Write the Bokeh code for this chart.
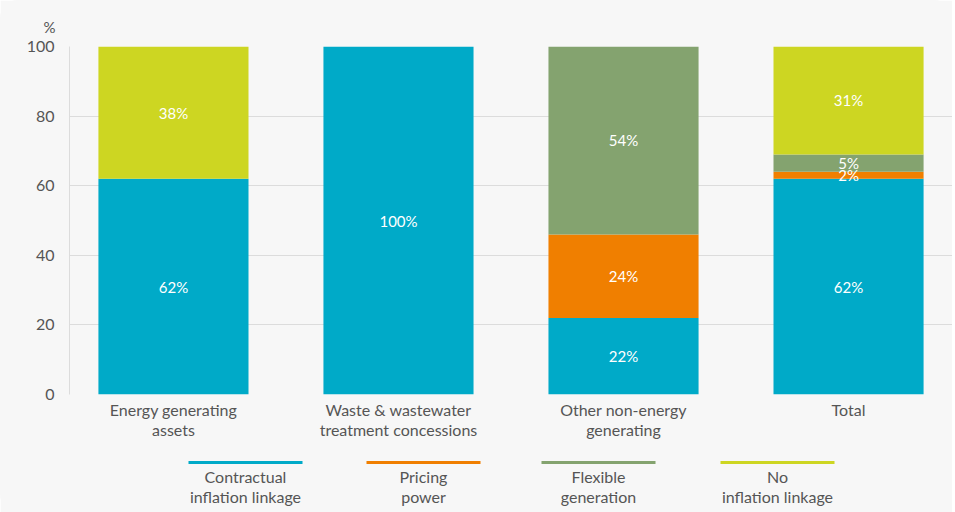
from bokeh.plotting import figure
from bokeh.models import ColumnDataSource, FactorRange
from bokeh.layouts import column
from bokeh.core.properties import value
from bokeh.embed import file_html
from bokeh.resources import INLINE

categories = ["Energy generating\nassets", "Waste & wastewater\ntreatment concessions",
              "Other non-energy\ngenerating", "Total"]
contractual = [62, 100, 22, 62]
pricing = [0, 0, 24, 2]
flexible = [0, 0, 54, 5]
no_inflation = [38, 0, 0, 31]
series_names = ["contractual", "pricing", "flexible", "no_inflation"]
legend_labels = ["Contractual\ninflation linkage", "Pricing\npower", "Flexible\ngeneration", "No\ninflation linkage"]
colors = ["#00aac8", "#f07f00", "#84a36f", "#cdd622"]
y_ticks = [0, 20, 40, 60, 80, 100]

FONT = "Lato"
BG = "#f7f7f7"
TXT = "#555555"

data = {"cat": categories, "contractual": contractual, "pricing": pricing,
        "flexible": flexible, "no_inflation": no_inflation}
src = ColumnDataSource(data)

xr = FactorRange(*categories, range_padding=-0.038, range_padding_units="absolute")
p = figure(x_range=xr, y_range=(0, 100), width=952, height=446,
           output_backend="svg", toolbar_location=None, title="%",
           min_border_left=69, min_border_right=0, min_border_top=46, min_border_bottom=52)
p.background_fill_color = BG
p.border_fill_color = BG
p.outline_line_color = None
p.title.align = "left"
p.title.offset = -26
p.title.standoff = 22
p.title.text_font = FONT
p.title.text_font_size = "15px"
p.title.text_font_style = "normal"
p.title.text_color = TXT

p.vbar_stack(series_names, x="cat", width=0.667, color=colors, source=src, line_color=None)

lab_x, lab_y, lab_t = [], [], []
for i, c in enumerate(categories):
    base = 0
    for s in series_names:
        v = data[s][i]
        if v > 0:
            lab_x.append(c)
            lab_y.append(base + v / 2)
            lab_t.append(f"{v}%")
        base += v
lsrc = ColumnDataSource(dict(x=lab_x, y=lab_y, t=lab_t))
p.text(x="x", y="y", text="t", source=lsrc, text_color="white", text_font=value(FONT),
       text_font_size="15px", text_align="center", text_baseline="middle")

p.yaxis.ticker = y_ticks
p.ygrid.ticker = y_ticks
p.xgrid.grid_line_color = None
p.ygrid.grid_line_color = "#dcdcdc"
p.ygrid.grid_line_width = 1
for ax in (p.xaxis, p.yaxis):
    ax.major_label_text_font = FONT
    ax.major_label_text_font_size = "16px"
    ax.major_label_text_color = TXT
    ax.major_tick_line_color = None
    ax.minor_tick_line_color = None
p.xaxis.axis_line_color = None
p.yaxis.axis_line_color = "#dcdcdc"
p.yaxis.major_label_standoff = 9
p.xaxis.major_label_standoff = -1
p.xaxis.major_label_text_line_height = 1.1

# legend figure (its frame aligns with the main frame: x 69..952 on the page)
lg = figure(width=952, height=66, x_range=(69, 952), y_range=(66, 0),
            output_backend="svg", toolbar_location=None, min_border=0)
lg.background_fill_color = BG
lg.border_fill_color = BG
lg.outline_line_color = None
lg.axis.visible = False
lg.grid.visible = False
leg_cx = [245, 423, 598, 777]
leg_src = ColumnDataSource(dict(x0=[c - 57 for c in leg_cx], x1=[c + 57 for c in leg_cx],
                                y=[16] * 4, cx=leg_cx, ty=[20] * 4, t=legend_labels, color=colors))
lg.segment(x0="x0", y0="y", x1="x1", y1="y", color="color", line_width=3, source=leg_src)
lg.text(x="cx", y="ty", text="t", source=leg_src, text_color=TXT, text_font=value(FONT),
        text_font_size="16px", text_align="center", text_baseline="top", text_line_height=1.1)

layout = column(p, lg, spacing=0, styles={"background-color": BG, "border-radius": "18px"})
open("out.html", "w").write(file_html(layout, INLINE))
